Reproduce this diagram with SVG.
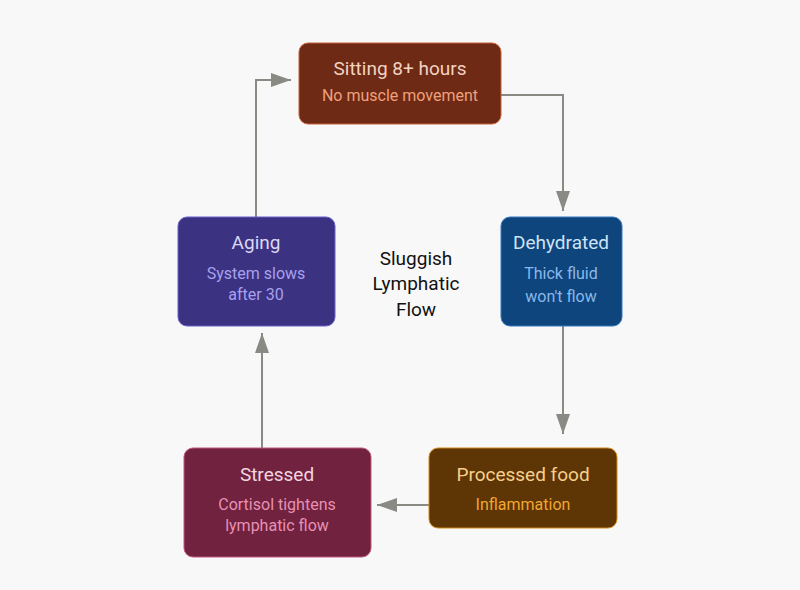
<svg xmlns="http://www.w3.org/2000/svg" width="800" height="590" viewBox="0 0 800 590">
<style>
.t{font-family:Roboto,"Liberation Sans",sans-serif;font-size:19px;text-anchor:middle}
.s{font-family:Roboto,"Liberation Sans",sans-serif;font-size:16px;text-anchor:middle}
.c{fill:none;stroke:#8a8a84;stroke-width:2}
</style>
<defs><marker id="a" viewBox="0 0 10 10" refX="9" refY="5" markerWidth="10" markerHeight="10" markerUnits="userSpaceOnUse" orient="auto"><path d="M0,0L10,5L0,10z" fill="#8a8a84"/></marker>
<marker id="b" viewBox="0 0 20 14" refX="20" refY="7" markerWidth="20" markerHeight="14" markerUnits="userSpaceOnUse" orient="auto"><path d="M0,0L20,7L0,14z" fill="#8a8a84"/></marker></defs>
<rect width="800" height="590" fill="#f8f8f8"/>
<g id="connectors">
<path class="c" d="M501,95H563V211" marker-end="url(#b)"/>
<path class="c" d="M563,326V434" marker-end="url(#b)"/>
<path class="c" d="M429,505H377" marker-end="url(#b)"/>
<path class="c" d="M262,448V333" marker-end="url(#b)"/>
<path class="c" d="M256,217V80H291" marker-end="url(#b)"/>
</g>
<g id="center"><text class="t" x="416" y="265" fill="#111">Sluggish</text><text class="t" x="416" y="290" fill="#111">Lymphatic</text><text class="t" x="416" y="316" fill="#111">Flow</text></g>
<g id="sitting"><rect x="299" y="43" width="202" height="81" rx="9" fill="#6e2a14" stroke="#c8603c"/><text class="t" x="400" y="75" fill="#f3d2c2">Sitting 8+ hours</text><text class="s" x="400" y="101" fill="#f0a07c">No muscle movement</text></g>
<g id="dehydrated"><rect x="501" y="217" width="121" height="109" rx="9" fill="#0d457c" stroke="#3a7ac0"/><text class="t" x="561" y="249" fill="#cfe2f6">Dehydrated</text><text class="s" x="561" y="279" fill="#8ab8ea">Thick fluid</text><text class="s" x="561" y="302" fill="#8ab8ea">won't flow</text></g>
<g id="processed"><rect x="429" y="448" width="188" height="80" rx="9" fill="#5e3505" stroke="#d48a1c"/><text class="t" x="523" y="481" fill="#f6d08a">Processed food</text><text class="s" x="523" y="510" fill="#f2a632">Inflammation</text></g>
<g id="stressed"><rect x="184" y="448" width="187" height="109" rx="9" fill="#70223e" stroke="#c05880"/><text class="t" x="277" y="481" fill="#f3d6e0">Stressed</text><text class="s" x="277" y="510" fill="#e890b4">Cortisol tightens</text><text class="s" x="277" y="531" fill="#e890b4">lymphatic flow</text></g>
<g id="aging"><rect x="178" y="217" width="157" height="109" rx="9" fill="#3b3282" stroke="#6a5ec8"/><text class="t" x="256" y="249" fill="#dcd8f6">Aging</text><text class="s" x="256" y="279" fill="#a8a0ec">System slows</text><text class="s" x="256" y="300" fill="#a8a0ec">after 30</text></g>
</svg>
